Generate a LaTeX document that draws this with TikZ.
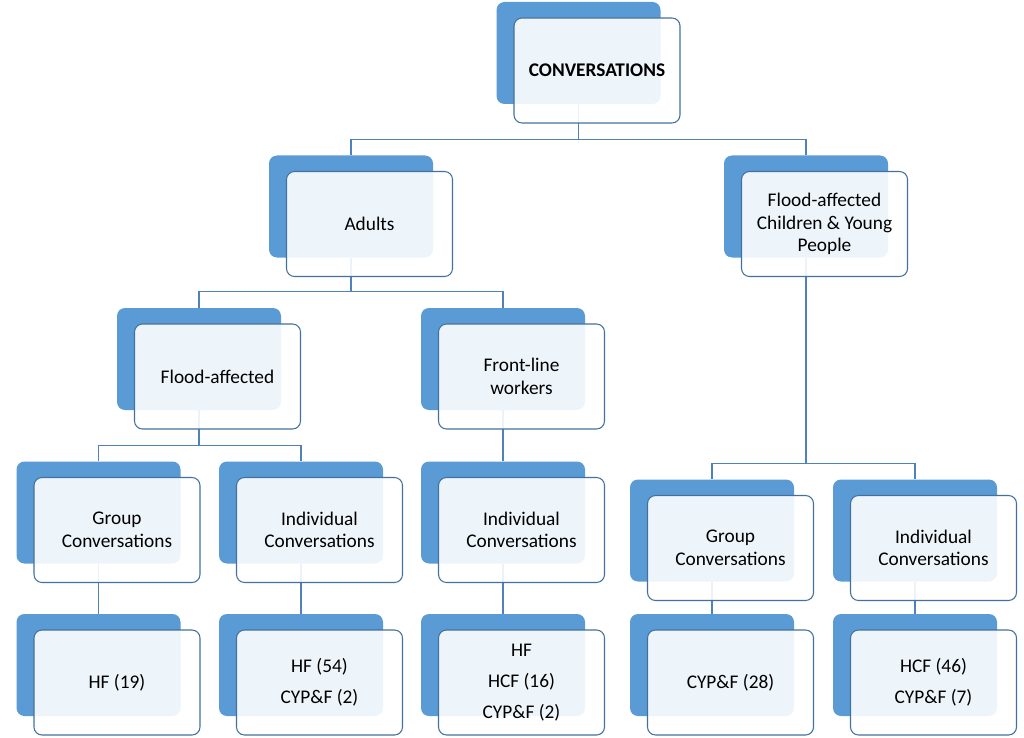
\documentclass[tikz,border=0pt]{standalone}
\usepackage{fontspec}
\setmainfont{Carlito}
\usepackage{tikz}
\usetikzlibrary{calc, backgrounds}
\definecolor{boxblue}{HTML}{5B9BD5}
\definecolor{edgeblue}{HTML}{41719C}
\definecolor{lineblue}{HTML}{4F81BD}

\begin{document}
\begin{tikzpicture}[x=0.75pt, y=-0.75pt,
    back/.style={fill=boxblue, rounded corners=6pt, minimum width=123pt,
      minimum height=76.5pt, inner sep=0pt},
    front/.style={draw=edgeblue, line width=0.8pt, fill=white, fill opacity=0.9,
      text opacity=1, rounded corners=6pt, minimum width=124.5pt,
      minimum height=78.75pt, inner sep=0pt, align=center,
      font=\fontsize{14.5}{17}\selectfont},
    leaf/.style={font=\fontsize{14.5}{23}\selectfont},
    conn/.style={draw=lineblue, line width=0.8pt}]
  \useasboundingbox (0,0) rectangle (1024,738);
  % Upper boxes: blue card behind, pale card in front
  \foreach \n/\px/\py/\txt in {
      top/578.5/53/{\textbf{CONVERSATIONS}},
      adults/351/206.5/{Adults},
      cyp/806/206.5/{Flood-affected\\Children \& Young\\People},
      flood/199/359/{Flood-affected},
      flw/503/359/{Front-line\\workers},
      g1/98.5/512.5/{Group\\Conversations},
      i1/301/512.5/{Individual\\Conversations},
      i2/503/512.5/{Individual\\Conversations},
      g2/712/530.5/{Group\\Conversations},
      i3/915/530.5/{Individual\\Conversations}} {
    \node[back] (\n b) at (\px,\py) {};
    \node[front] (\n) at ($(\n b)+(18.5,17.5)$) {\txt};
  }
  % Bottom row (counts)
  \foreach \n/\px/\txt in {
      b1/98.5/{HF (19)},
      b2/301/{HF (54)\\CYP\&F (2)},
      b3/503/{HF\\HCF (16)\\CYP\&F (2)},
      b4/712/{CYP\&F (28)},
      b5/915/{HCF (46)\\CYP\&F (7)}} {
    \node[back] (\n b) at (\px,665) {};
    \node[front, leaf] (\n) at ($(\n b)+(18.5,17.5)$) {\txt};
  }
  % Connectors, behind the cards
  \begin{scope}[on background layer]
    \foreach \p/\c in {top/adults, top/cyp, adults/flood, adults/flw,
        flood/g1, flood/i1, flw/i2, cyp/g2, cyp/i3,
        g1/b1, i1/b2, i2/b3, g2/b4, i3/b5}
      \draw[conn] (\p b) |- ($(\c b.north)+(0,-16)$) -| (\c b);
  \end{scope}
\end{tikzpicture}
\end{document}
